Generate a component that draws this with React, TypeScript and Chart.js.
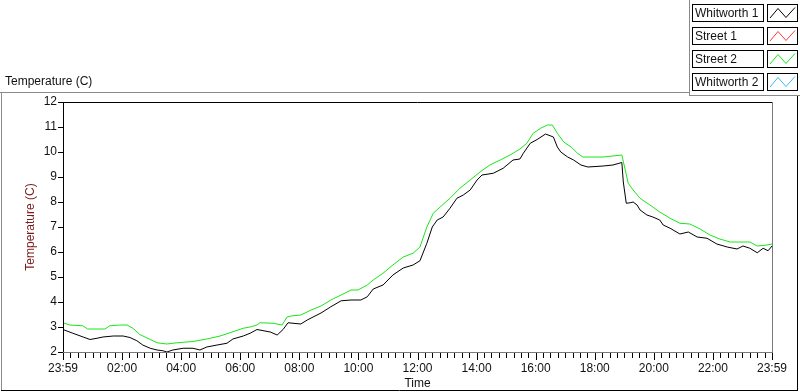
import React, { useEffect, useRef } from "react";
import { Chart, registerables } from "chart.js";

Chart.register(...registerables);

// ---- data (minutes after 23:59 start, temperature in C) ----
const whitworth1Minutes = [
  0, 20, 41, 55, 69, 81, 102, 122, 136, 150, 162, 177, 191, 203, 211, 223, 244, 264, 278, 292,
  313, 333, 345, 366, 380, 394, 421, 435, 447, 457, 483, 496, 524, 544, 565, 585, 605, 618, 630, 650,
  670, 691, 711, 725, 739, 750, 760, 772, 786, 800, 813, 827, 841, 851, 874, 894, 914, 928, 935, 949,
  963, 980, 996, 1004, 1011, 1025, 1037, 1052, 1066, 1097, 1117, 1135, 1138, 1144, 1152, 1158, 1166, 1172, 1186, 1198,
  1212, 1219, 1233, 1253, 1270, 1288, 1308, 1328, 1349, 1369, 1381, 1395, 1410, 1422, 1432, 1440,
];
const whitworth1Values = [
  2.9, 2.75, 2.6, 2.5, 2.55, 2.6, 2.64, 2.64, 2.58, 2.45, 2.28, 2.15, 2.08, 2.05, 2.0, 2.08, 2.15, 2.15, 2.08, 2.2,
  2.28, 2.35, 2.52, 2.64, 2.75, 2.9, 2.8, 2.68, 2.9, 3.17, 3.12, 3.28, 3.56, 3.81, 4.05, 4.08, 4.08, 4.21, 4.52, 4.68,
  5.08, 5.36, 5.48, 5.65, 6.35, 7.0, 7.28, 7.4, 7.75, 8.15, 8.28, 8.48, 8.88, 9.08, 9.15, 9.35, 9.68, 9.72, 9.95, 10.35,
  10.5, 10.72, 10.6, 10.2, 10.0, 9.8, 9.68, 9.48, 9.4, 9.44, 9.48, 9.58, 8.8, 7.95, 7.97, 8.0, 7.88, 7.68, 7.48, 7.4,
  7.28, 7.08, 6.95, 6.72, 6.8, 6.6, 6.55, 6.32, 6.2, 6.12, 6.24, 6.15, 5.97, 6.15, 6.05, 6.24,
];

const street2Minutes = [
  0, 14, 40, 50, 85, 95, 115, 130, 142, 156, 177, 191, 211, 232, 264, 292, 319, 339, 366, 380,
  394, 400, 427, 445, 455, 463, 483, 504, 524, 544, 565, 585, 599, 618, 630, 650, 670, 691, 711, 725,
  739, 752, 766, 786, 806, 827, 847, 867, 888, 908, 928, 942, 955, 970, 984, 994, 1004, 1017, 1032, 1045,
  1056, 1097, 1135, 1142, 1148, 1158, 1172, 1192, 1212, 1233, 1253, 1273, 1294, 1314, 1334, 1355, 1395, 1410, 1430, 1440,
];
const street2Values = [
  3.17, 3.08, 3.05, 2.92, 2.92, 3.05, 3.08, 3.08, 2.95, 2.7, 2.5, 2.37, 2.32, 2.37, 2.42, 2.52, 2.64, 2.77, 2.95, 3.0,
  3.08, 3.17, 3.15, 3.08, 3.4, 3.44, 3.48, 3.68, 3.84, 4.08, 4.28, 4.48, 4.48, 4.68, 4.88, 5.15, 5.48, 5.8, 5.95, 6.2,
  7.0, 7.55, 7.8, 8.15, 8.55, 8.88, 9.2, 9.48, 9.68, 9.88, 10.12, 10.35, 10.75, 10.95, 11.08, 11.08, 10.75, 10.4, 10.2, 9.95,
  9.8, 9.8, 9.88, 9.28, 8.75, 8.48, 8.15, 7.88, 7.6, 7.35, 7.15, 7.12, 6.92, 6.68, 6.52, 6.4, 6.4, 6.24, 6.28, 6.32,
];

const street1Minutes: number[] = [];
const street1Values: number[] = [];
const whitworth2Minutes: number[] = [];
const whitworth2Values: number[] = [];

const seriesNames = ["Whitworth 1", "Street 1", "Street 2", "Whitworth 2"];
const seriesColors = ["#000000", "#ff3b3b", "#18e818", "#3ab8f5"];

const majorTickMinutes = [0, 120, 240, 360, 480, 600, 720, 840, 960, 1080, 1200, 1320, 1440];
const majorTickLabels = ["23:59", "02:00", "04:00", "06:00", "08:00", "10:00", "12:00", "14:00", "16:00", "18:00", "20:00", "22:00", "23:59"];
const minorTickStep = 15;
const yTicks = [2, 3, 4, 5, 6, 7, 8, 9, 10, 11, 12];

const FONT = "'Liberation Sans', Arial, sans-serif";

function toPoints(xs: number[], ys: number[]) {
  return xs.map((x, i) => ({ x, y: ys[i] }));
}

const framePlugin = {
  id: "labviewFrame",
  beforeDraw(chart: any) {
    const ctx = chart.ctx;
    ctx.save();
    ctx.fillStyle = "#ffffff";
    ctx.fillRect(0, 0, chart.width, chart.height);
    ctx.lineWidth = 1;
    ctx.strokeStyle = "#8a8a8a";
    ctx.beginPath();
    ctx.moveTo(0, 92.5);
    ctx.lineTo(690, 92.5);
    ctx.moveTo(689.5, 0);
    ctx.lineTo(689.5, 96);
    ctx.moveTo(689, 95.5);
    ctx.lineTo(800, 95.5);
    ctx.moveTo(1.5, 92);
    ctx.lineTo(1.5, 390);
    ctx.stroke();
    ctx.strokeStyle = "#000000";
    ctx.beginPath();
    ctx.moveTo(1, 390.5);
    ctx.lineTo(798, 390.5);
    ctx.moveTo(797.5, 96);
    ctx.lineTo(797.5, 391);
    ctx.stroke();
    ctx.fillStyle = "#111111";
    ctx.font = `12px ${FONT}`;
    ctx.textAlign = "left";
    ctx.textBaseline = "middle";
    ctx.fillText("Temperature (C)", 5, 82);
    ctx.restore();
  },
  afterDraw(chart: any) {
    const ctx = chart.ctx;
    const { left, right, top, bottom } = chart.chartArea;
    ctx.save();
    ctx.lineWidth = 1;
    // plot frame
    ctx.strokeStyle = "#000000";
    ctx.beginPath();
    ctx.moveTo(left, top + 0.5);
    ctx.lineTo(right, top + 0.5);
    ctx.moveTo(left + 0.5, top);
    ctx.lineTo(left + 0.5, bottom + 1);
    ctx.stroke();
    ctx.strokeStyle = "#7a7a7a";
    ctx.beginPath();
    ctx.moveTo(left, bottom + 0.5);
    ctx.lineTo(right + 1, bottom + 0.5);
    ctx.moveTo(right + 0.5, top);
    ctx.lineTo(right + 0.5, bottom + 1);
    ctx.stroke();
    // x ticks
    const xs = chart.scales.x;
    ctx.strokeStyle = "#000000";
    ctx.beginPath();
    xs.ticks.forEach((t: any) => {
      const px = Math.round(xs.getPixelForValue(t.value)) + 0.5;
      const major = majorTickMinutes.includes(t.value);
      ctx.moveTo(px, bottom + 1);
      ctx.lineTo(px, bottom + (major ? 8 : 6));
    });
    ctx.stroke();
    // legend
    chart.data.datasets.forEach((ds: any, i: number) => {
      const y0 = 4 + i * 23;
      ctx.fillStyle = "#ffffff";
      ctx.fillRect(692, y0, 71, 17);
      ctx.fillRect(767, y0, 30, 17);
      ctx.strokeStyle = "#000000";
      ctx.strokeRect(692.5, y0 + 0.5, 71, 17);
      ctx.strokeRect(767.5, y0 + 0.5, 30, 17);
      ctx.fillStyle = "#111111";
      ctx.font = `12px ${FONT}`;
      ctx.textAlign = "left";
      ctx.textBaseline = "middle";
      ctx.fillText(ds.label, 695, y0 + 9.5);
      ctx.strokeStyle = ds.borderColor;
      ctx.beginPath();
      ctx.moveTo(770, y0 + 14);
      ctx.lineTo(778, y0 + 4.5);
      ctx.lineTo(786, y0 + 13.5);
      ctx.lineTo(795, y0 + 3.5);
      ctx.stroke();
    });
    ctx.restore();
  },
};

export default function App() {
  const ref = useRef<HTMLCanvasElement | null>(null);
  useEffect(() => {
    if (!ref.current) return;
    const chart = new Chart(ref.current, {
      type: "line",
      data: {
        datasets: [
          { label: seriesNames[0], data: toPoints(whitworth1Minutes, whitworth1Values), borderColor: seriesColors[0], order: 0 },
          { label: seriesNames[1], data: toPoints(street1Minutes, street1Values), borderColor: seriesColors[1], order: 1 },
          { label: seriesNames[2], data: toPoints(street2Minutes, street2Values), borderColor: seriesColors[2], order: 2 },
          { label: seriesNames[3], data: toPoints(whitworth2Minutes, whitworth2Values), borderColor: seriesColors[3], order: 3 },
        ] as any,
      },
      options: {
        animation: false,
        responsive: false,
        maintainAspectRatio: false,
        layout: { padding: { top: 102, right: 28, left: 0, bottom: 0 } },
        elements: { point: { radius: 0 }, line: { borderWidth: 1, tension: 0 } },
        plugins: { legend: { display: false }, tooltip: { enabled: false } },
        scales: {
          x: {
            type: "linear",
            min: 0,
            max: 1440,
            afterFit: (s: any) => { s.height = 40; },
            afterBuildTicks: (s: any) => {
              const t = [];
              for (let v = 0; v <= 1440; v += minorTickStep) t.push({ value: v });
              s.ticks = t;
            },
            grid: { display: false, drawTicks: false },
            border: { display: false },
            ticks: {
              autoSkip: false,
              maxRotation: 0,
              padding: 9,
              color: "#111111",
              font: { family: FONT, size: 12 },
              callback: (v: any) => {
                const i = majorTickMinutes.indexOf(Number(v));
                return i >= 0 ? majorTickLabels[i] : "";
              },
            },
            title: { display: true, text: "Time", color: "#111111", font: { family: FONT, size: 12 }, padding: { top: 0, bottom: 1 } },
          },
          y: {
            type: "linear",
            min: 2,
            max: 12,
            afterFit: (s: any) => { s.width = 63; },
            afterBuildTicks: (s: any) => { s.ticks = yTicks.map((v) => ({ value: v })); },
            grid: { drawOnChartArea: false, drawTicks: true, tickLength: 5, color: "#000000" },
            border: { display: false },
            ticks: { padding: 1, color: "#111111", font: { family: FONT, size: 12 } },
            title: { display: true, text: "Temperature (C)", color: "#7a1a1a", font: { family: FONT, size: 12 }, padding: { top: 23, bottom: 0 } },
          },
        },
      } as any,
      plugins: [framePlugin],
    });
    return () => chart.destroy();
  }, []);
  return (
    <div style={{ position: "absolute", left: 0, top: 0, width: 800, height: 392 }}>
      <canvas ref={ref} width={800} height={392} />
    </div>
  );
}
